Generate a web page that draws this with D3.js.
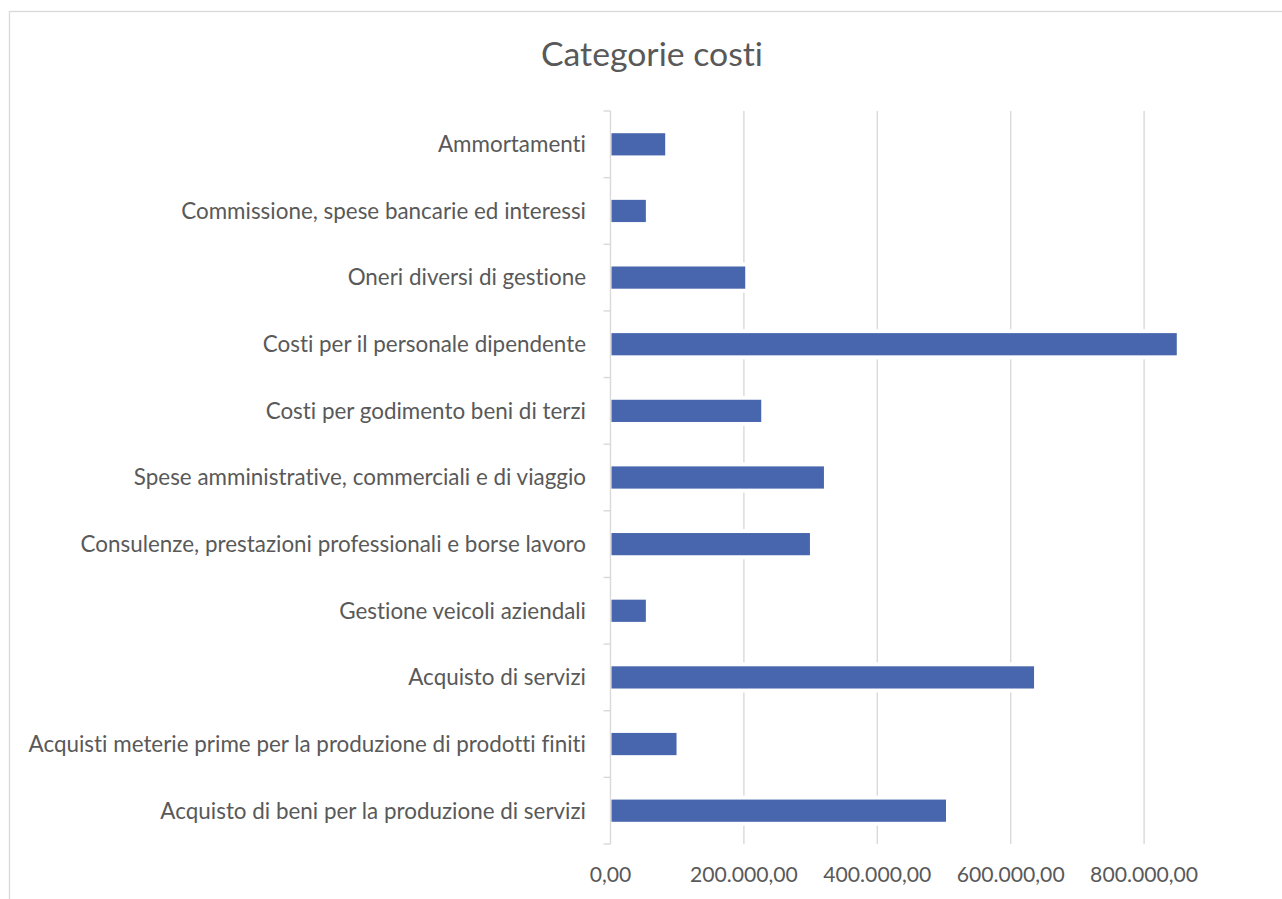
<!DOCTYPE html>
<html>
<head>
<meta charset="utf-8">
<script src="https://cdn.jsdelivr.net/npm/d3@7"></script>
<style>
  html, body { margin: 0; padding: 0; background: #ffffff; }
  svg { display: block; }
  text { font-family: Lato, "Open Sans", sans-serif; fill: #595959; font-variant-ligatures: none; font-feature-settings: "liga" 0, "clig" 0; }
</style>
</head>
<body>
<svg id="chart" width="1282" height="899"></svg>
<script>
// Cost categories, listed top to bottom as drawn
const categories = [
  "Ammortamenti",
  "Commissione, spese bancarie ed interessi",
  "Oneri diversi di gestione",
  "Costi per il personale dipendente",
  "Costi per godimento beni di terzi",
  "Spese amministrative, commerciali e di viaggio",
  "Consulenze, prestazioni professionali e borse lavoro",
  "Gestione veicoli aziendali",
  "Acquisto di servizi",
  "Acquisti meterie prime per la produzione di prodotti finiti",
  "Acquisto di beni per la produzione di servizi"
];
const costs = [82000, 53000, 202000, 849000, 226000, 320000, 299000, 53000, 635000, 99000, 503000];
const tickValues = [0, 200000, 400000, 600000, 800000];
const tickLabels = ["0,00", "200.000,00", "400.000,00", "600.000,00", "800.000,00"];
const title = "Categorie costi";

const svg = d3.select("#chart");

// chart frame (extends past the right and bottom edges)
svg.append("rect")
  .attr("x", 9.5).attr("y", 11.5)
  .attr("width", 1400).attr("height", 1000)
  .attr("fill", "#ffffff").attr("stroke", "#d9d9d9").attr("stroke-width", 1.3);

const plot = { left: 610.5, top: 111, bottom: 844 };

const x = d3.scaleLinear().domain([0, 1000000]).range([plot.left, plot.left + 667]);
const y = d3.scaleBand().domain(categories)
  .range([plot.top, plot.bottom])
  .paddingInner(2 / 3).paddingOuter(1 / 3);

// helper: size text so it spans a given width
function fitSize(sample, targetWidth, base) {
  const t = svg.append("text").attr("font-size", base).text(sample);
  const w = t.node().getComputedTextLength();
  t.remove();
  return base * targetWidth / w;
}

const catSize = fitSize(categories[9], 558, 20);
const tickSize = fitSize(tickLabels[1], 108, 20);
const titleSize = fitSize(title, 222, 30);

// title
svg.append("text")
  .attr("x", 652).attr("y", 66)
  .attr("text-anchor", "middle")
  .attr("font-size", titleSize)
  .text(title);

// vertical gridlines
svg.append("g").selectAll("line")
  .data(tickValues.filter(v => v > 0))
  .join("line")
  .attr("x1", d => x(d)).attr("x2", d => x(d))
  .attr("y1", plot.top).attr("y2", plot.bottom)
  .attr("stroke", "#d9d9d9").attr("stroke-width", 1.4);

// category axis with outside tick marks at band boundaries
const step = y.step();
const boundaries = d3.range(categories.length + 1).map(i => plot.top + i * step);
const axisG = svg.append("g");
axisG.append("line")
  .attr("x1", plot.left).attr("x2", plot.left)
  .attr("y1", plot.top).attr("y2", plot.bottom)
  .attr("stroke", "#d9d9d9").attr("stroke-width", 1.4);
axisG.selectAll("line.tick")
  .data(boundaries)
  .join("line").attr("class", "tick")
  .attr("x1", plot.left - 7).attr("x2", plot.left)
  .attr("y1", d => d).attr("y2", d => d)
  .attr("stroke", "#d9d9d9").attr("stroke-width", 1.4);

// white halo behind bars, interrupting gridlines
svg.append("g").selectAll("rect")
  .data(categories)
  .join("rect")
  .attr("x", plot.left + 1)
  .attr("y", d => y(d) - 4)
  .attr("width", (d, i) => x(costs[i]) - plot.left + 2)
  .attr("height", y.bandwidth() + 8)
  .attr("fill", "#ffffff");

// bars
svg.append("g").selectAll("rect")
  .data(categories)
  .join("rect")
  .attr("x", plot.left + 1)
  .attr("y", d => y(d))
  .attr("width", (d, i) => x(costs[i]) - plot.left - 1)
  .attr("height", y.bandwidth())
  .attr("fill", "#4866ad");

// category labels
svg.append("g").selectAll("text")
  .data(categories)
  .join("text")
  .attr("x", 586)
  .attr("y", d => y(d) + y.bandwidth() / 2)
  .attr("dy", "0.35em")
  .attr("text-anchor", "end")
  .attr("font-size", catSize)
  .text(d => d);

// value axis labels
svg.append("g").selectAll("text")
  .data(tickValues)
  .join("text")
  .attr("x", d => x(d))
  .attr("y", 882)
  .attr("text-anchor", "middle")
  .attr("font-size", tickSize)
  .text((d, i) => tickLabels[i]);
</script>
</body>
</html>
